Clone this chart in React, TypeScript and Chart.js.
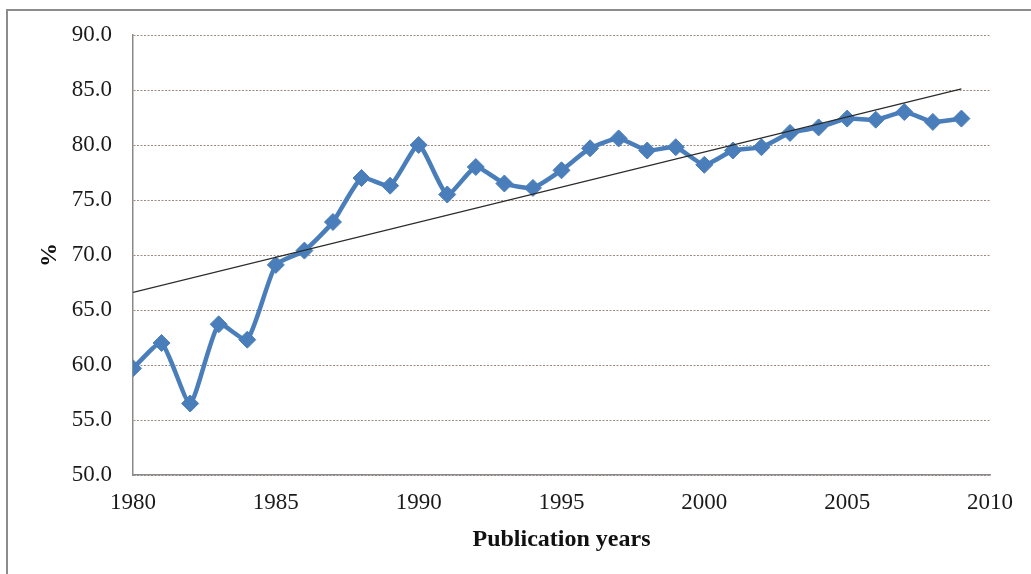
import React, { useEffect, useRef } from "react";
import { Chart, registerables } from "chart.js";

Chart.register(...registerables);

const years = [
  1980, 1981, 1982, 1983, 1984, 1985, 1986, 1987, 1988, 1989,
  1990, 1991, 1992, 1993, 1994, 1995, 1996, 1997, 1998, 1999,
  2000, 2001, 2002, 2003, 2004, 2005, 2006, 2007, 2008, 2009,
];
const shares = [
  59.7, 62.0, 56.5, 63.7, 62.3, 69.1, 70.4, 73.0, 77.0, 76.3,
  80.0, 75.5, 78.0, 76.5, 76.1, 77.7, 79.7, 80.6, 79.5, 79.8,
  78.2, 79.5, 79.8, 81.1, 81.6, 82.4, 82.3, 83.0, 82.1, 82.4,
];
const trendYears = [1980, 2009];
const trendValues = [66.6, 85.1];

const xTitle = "Publication years";
const yTitle = "%";

const FONT = "'Liberation Serif', 'Times New Roman', serif";

export default function App() {
  const ref = useRef<HTMLCanvasElement | null>(null);

  useEffect(() => {
    if (!ref.current) return;
    const chart = new Chart(ref.current, {
      type: "line",
      data: {
        datasets: [
          {
            label: "trend",
            data: trendYears.map((x, i) => ({ x, y: trendValues[i] })),
            borderColor: "#2b2b2b",
            borderWidth: 1.3,
            pointRadius: 0,
            tension: 0,
            order: 0,
          },
          {
            label: "share",
            data: years.map((x, i) => ({ x, y: shares[i] })),
            borderColor: "#4a7ebb",
            backgroundColor: "#4a7ebb",
            borderWidth: 4.5,
            pointStyle: "rectRot",
            pointRadius: 8.5,
            pointBorderWidth: 1,
            pointBorderColor: "#4a7ebb",
            pointBackgroundColor: "#4a7ebb",
            tension: 0.18,
            order: 1,
          },
        ],
      },
      options: {
        responsive: false,
        animation: false,
        layout: { padding: { top: 35, right: 41, left: 0, bottom: 0 } },
        plugins: {
          legend: { display: false },
          tooltip: { enabled: false },
        },
        scales: {
          x: {
            type: "linear",
            min: 1980,
            max: 2010,
            afterFit: (s: any) => {
              s.height = 99;
            },
            ticks: {
              stepSize: 5,
              padding: 14,
              color: "#1a1a1a",
              font: { family: FONT, size: 23 },
              callback: (v: any) => String(v),
            },
            grid: { drawOnChartArea: false, drawTicks: false },
            border: { display: true, color: "#8a8a8a", width: 1.5 },
            title: {
              display: true,
              text: xTitle,
              color: "#111",
              font: { family: FONT, size: 24, weight: "bold" },
              padding: { top: 0, bottom: 20 },
            },
          },
          y: {
            min: 50,
            max: 90,
            afterFit: (s: any) => {
              s.width = 133;
            },
            ticks: {
              stepSize: 5,
              padding: 21,
              color: "#1a1a1a",
              font: { family: FONT, size: 23 },
              callback: (v: any) => Number(v).toFixed(1),
            },
            grid: { color: "#9c8a80", lineWidth: 1, drawTicks: false },
            border: { display: true, color: "#8a8a8a", width: 1.5, dash: [2, 1.5] },
            title: {
              display: true,
              text: yTitle,
              color: "#111",
              font: { family: FONT, size: 24, weight: "bold" },
              padding: { top: 35, bottom: 0 },
            },
          },
        },
      },
    });
    return () => chart.destroy();
  }, []);

  return (
    <div
      style={{
        position: "fixed",
        left: 0,
        top: 0,
        width: 1031,
        height: 574,
        overflow: "hidden",
        background: "#fff",
      }}
    >
      <canvas
        ref={ref}
        width={1031}
        height={574}
        style={{ position: "absolute", left: 0, top: 0 }}
      />
      <div
        style={{
          position: "absolute",
          left: 6,
          top: 9,
          width: 1100,
          height: 700,
          borderTop: "2px solid #8c8c8c",
          borderLeft: "2px solid #8c8c8c",
          pointerEvents: "none",
        }}
      />
    </div>
  );
}
